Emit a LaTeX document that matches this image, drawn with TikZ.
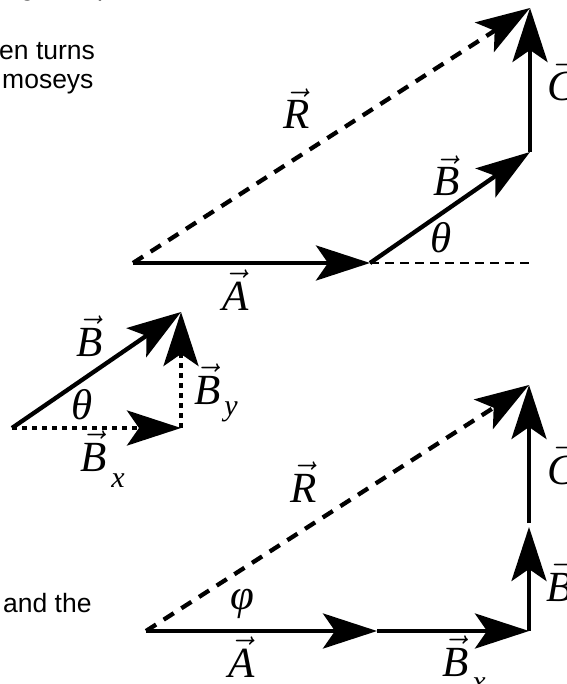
\RequirePackage{fix-cm}
\documentclass[tikz,border=0pt]{standalone}
\usepackage{fontspec}
\setmainfont{Liberation Serif}
\newfontfamily\sansf{Liberation Sans}
\usetikzlibrary{arrows.meta}
\newcommand\vlab[1]{$\vec{\hbox{\itshape #1}}$}
\newcommand\sublab[2]{\raisebox{-#1}{\fontsize{30}{30}\selectfont\itshape #2}}
\tikzset{
  vec/.style={line width=4.3pt,-{Stealth[length=54pt,width=35pt,inset=12pt]}},
  rdash/.style={vec,dash pattern=on 12pt off 9pt},
  thindash/.style={line width=2pt,dash pattern=on 9pt off 6pt},
  dotline/.style={vec,dash pattern=on 5pt off 5pt},
  lab/.style={inner sep=0pt,anchor=base,font=\fontsize{43}{43}\selectfont},
  labw/.style={lab,anchor=base west},
  prose/.style={inner sep=0pt,anchor=base west,font=\sansf\fontsize{26.5}{30}\selectfont}
}
\begin{document}
\begin{tikzpicture}[x=1pt,y=-1pt]
\useasboundingbox (0,0) rectangle (566,684);
% text fragments
\node[prose] (frg) at (20,-4) {g};
\node[prose] (frp) at (97,-4) {p};
\node[prose] (t1) at (-1,60) {en turns};
\node[prose] (t2) at (2,89) {moseys};
\node[prose] (t3) at (3,612) {and the};
% top diagram
\coordinate (a0) at (133,263);
\coordinate (a1) at (370,263);
\coordinate (a2) at (530,152);
\coordinate (a3) at (530,8);
\coordinate (ah) at (530,263);
\draw[vec] (a0) -- (a1);
\draw[thindash] (a1) -- (ah);
\draw[vec] (a1) -- (a2);
\draw[vec] (a2) -- (a3);
\draw[rdash] (a0) -- (a3);
\node[lab] (lR1) at (297,129) {\vlab{R}};
\node[lab] (lB1) at (447,196) {\vlab{B}};
\node[lab] (lth1) at (441,253) {\itshape θ};
\node[lab] (lA1) at (236,310) {\vlab{A}};
\node[lab] (lC1) at (562,101) {\vlab{C}};
% small diagram
\coordinate (b0) at (12,428);
\coordinate (b1) at (181,428);
\coordinate (b2) at (181,312);
\draw[dotline] (b0) -- (b1);
\draw[dotline] (b1) -- (b2);
\draw[vec] (b0) -- (b2);
\node[lab] (lB2) at (90,356) {\vlab{B}};
\node[lab] (lth2) at (82,419) {\itshape θ};
\node[labw] (lBx2) at (80,471) {\vlab{B}\hspace{5pt}\sublab{16pt}{x}};
\node[labw] (lBy2) at (194,404) {\vlab{B}\hspace{4pt}\sublab{11pt}{y}};
% lower diagram
\coordinate (c0) at (146,631);
\coordinate (c1) at (377,631);
\coordinate (c2) at (529,631);
\coordinate (c3) at (529,527);
\coordinate (c3b) at (529,523);
\coordinate (c4) at (529,385);
\draw[vec] (c0) -- (c1);
\draw[vec] (c1) -- (c2);
\draw[vec] (c2) -- (c3);
\draw[vec] (c3b) -- (c4);
\draw[rdash] (c0) -- (c4);
\node[lab] (lR3) at (304,502) {\vlab{R}};
\node[lab] (lph3) at (242,609) {\itshape φ};
\node[lab] (lA3) at (242,677) {\vlab{A}};
\node[labw] (lBx3) at (442,676) {\vlab{B}\hspace{4pt}\sublab{15pt}{x}};
\node[lab] (lC3) at (562,484) {\vlab{C}};
\node[lab] (lB3) at (560,601) {\vlab{B}};
\end{tikzpicture}
\end{document}
